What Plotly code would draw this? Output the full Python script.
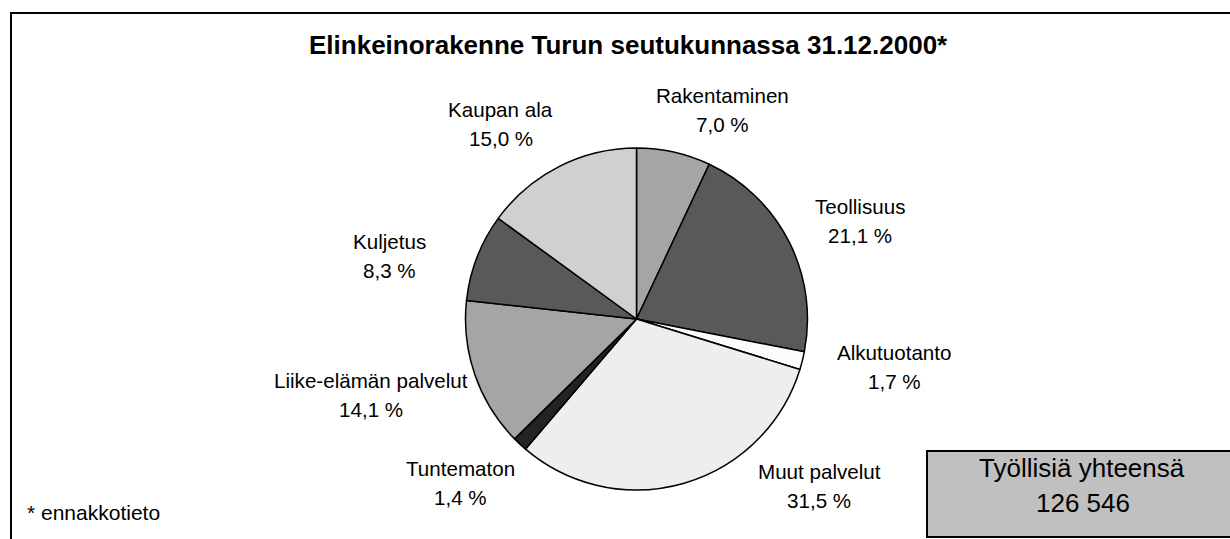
import plotly.graph_objects as go

# ---- data ----
categories = ["Rakentaminen", "Teollisuus", "Alkutuotanto", "Muut palvelut",
              "Tuntematon", "Liike-elämän palvelut", "Kuljetus", "Kaupan ala"]
shares = [7.0, 21.1, 1.7, 31.5, 1.4, 14.1, 8.3, 15.0]
slice_colors = ["#a5a5a5", "#595959", "#fcfcfc", "#eeeeee",
                "#232323", "#a5a5a5", "#595959", "#d0d0d0"]
title_text = "Elinkeinorakenne Turun seutukunnassa 31.12.2000*"
total_label = "Työllisiä yhteensä"
total_value = 126546
footnote = "* ennakkotieto"

# ---- layout (pixel positions of label centres) ----
W, H = 1230, 539
label_xy = [(722, 110), (860, 221), (894, 367), (819, 486),
            (460, 483), (371, 395), (389, 256), (501, 124)]
cx, cy, r = 636.5, 319, 171
LINE_GAP = 29

FONT = "Liberation Sans, Arial, sans-serif"

fig = go.Figure(go.Pie(
    labels=categories, values=shares, sort=False, direction="clockwise",
    rotation=0, textinfo="none", hoverinfo="label+percent",
    marker=dict(colors=slice_colors, line=dict(color="black", width=1.5)),
    domain=dict(x=[(cx - r) / W, (cx + r) / W],
                y=[1 - (cy + r) / H, 1 - (cy - r) / H]),
    showlegend=False,
))

def fmt(v):
    return f"{v:.1f}".replace(".", ",") + " %"

def txt(s, px, py, size, anchor="center", bold=False):
    return dict(
        x=px / W, y=1 - py / H, xref="paper", yref="paper",
        text=f"<b>{s}</b>" if bold else s, showarrow=False,
        font=dict(family=FONT, size=size, color="black"),
        xanchor=anchor, yanchor="middle", align="center")

annotations = []
for name, v, (px, py) in zip(categories, shares, label_xy):
    annotations.append(txt(name, px, py - LINE_GAP / 2, 20.6))
    annotations.append(txt(fmt(v), px, py + LINE_GAP / 2, 20.6))

annotations.append(txt(title_text, 628, 45, 26, bold=True))
annotations.append(txt(footnote, 25, 512, 21, anchor="left"))

total_str = f"{total_value:,}".replace(",", " ")
annotations.append(txt(total_label, 1082, 468, 26))
annotations.append(txt(total_str, 1083, 503, 26))

shapes = [
    dict(type="rect", xref="paper", yref="paper",
         x0=11 / W, x1=1.05, y0=-0.05, y1=1 - 13 / H,
         line=dict(color="black", width=2), fillcolor="rgba(0,0,0,0)", layer="below"),
    dict(type="rect", xref="paper", yref="paper",
         x0=927 / W, x1=1.05, y0=1 - 537 / H, y1=1 - 451 / H,
         line=dict(color="black", width=2), fillcolor="#c0c0c0", layer="below"),
]

fig.update_layout(
    width=W, height=H, margin=dict(l=0, r=0, t=0, b=0),
    paper_bgcolor="white", plot_bgcolor="white",
    annotations=annotations, shapes=shapes,
    font=dict(family=FONT),
)

fig.write_html("out.html", config={"displayModeBar": False},
               post_script="document.body.style.margin='0';document.body.style.overflow='hidden';")
